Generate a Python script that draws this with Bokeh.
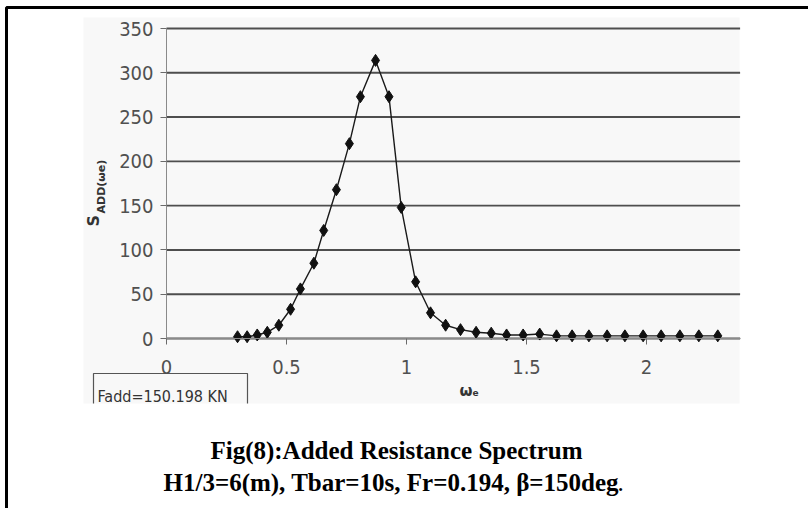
from bokeh.plotting import figure
from bokeh.models import Range1d, FixedTicker
from bokeh.core.properties import value
from bokeh.embed import file_html
from bokeh.resources import INLINE

# Encounter frequency (rad/s) and added resistance spectral density
omega_e = [0.296, 0.336, 0.378, 0.420, 0.468, 0.517, 0.558, 0.614, 0.655, 0.708,
           0.762, 0.808, 0.871, 0.927, 0.978, 1.038, 1.100, 1.163, 1.225, 1.290,
           1.353, 1.417, 1.486, 1.555, 1.625, 1.690, 1.760, 1.836, 1.910, 1.986,
           2.061, 2.139, 2.218, 2.297]
s_add = [2, 2, 4, 7, 15, 33, 56, 85, 122, 168,
         220, 273, 314, 273, 148, 64, 29, 15, 10, 7,
         6, 4, 4, 5, 3, 3, 3, 3, 3, 3,
         3, 3, 3, 3]

x_ticks = [0, 0.5, 1, 1.5, 2]
y_ticks = [0, 50, 100, 150, 200, 250, 300, 350]
x_max = 2.39
y_max = 350

total_force = "Fadd=150.198 KN"
caption_1 = "Fig(8):Added Resistance Spectrum"
caption_2 = "H1/3=6(m), Tbar=10s, Fr=0.194, \u03b2=150deg"

W, H = 808, 508
# screen layout of the data origin and scale (pixels per unit)
X0_PX, Y0_PX = 166, 338
SX, SY = 240.0, 310.0 / 350.0


def px_x(px):
    return (px - X0_PX) / SX


def px_y(py):
    return (Y0_PX - py) / SY


p = figure(width=W, height=H, output_backend="svg", toolbar_location=None,
           x_range=Range1d(px_x(0), px_x(W)), y_range=Range1d(px_y(H), px_y(0)),
           min_border=0, outline_line_color=None)
p.background_fill_color = "white"
p.border_fill_color = "white"
p.grid.visible = False

NARROW = "Liberation Sans Narrow, DejaVu Sans Condensed, sans-serif"
SERIF = "Liberation Serif, Times New Roman, serif"

# chart area panel
p.quad(left=px_x(83), right=px_x(739), top=px_y(17), bottom=px_y(403),
       fill_color="#f8f8f8", line_color=None)

# horizontal gridlines
p.segment(x0=[0] * len(y_ticks), x1=[x_max] * len(y_ticks), y0=y_ticks, y1=y_ticks,
          line_color="#4e4e4e", line_width=1.9)

# axes pinned at the data origin
for ax in (p.xaxis[0], p.yaxis[0]):
    ax.fixed_location = 0
    ax.axis_line_color = "#8a8a8a"
    ax.axis_line_width = 1
    ax.major_tick_line_color = "#6a6a6a"
    ax.major_tick_in = 0
    ax.major_tick_out = 6
    ax.minor_tick_line_color = None
    ax.major_label_text_font = NARROW
    ax.major_label_text_font_size = "20px"
    ax.major_label_text_color = "#505050"
p.xaxis.bounds = (0, x_max)
p.yaxis.bounds = (0, y_max)
p.xaxis.ticker = FixedTicker(ticks=x_ticks)
p.yaxis.ticker = FixedTicker(ticks=y_ticks)
p.xaxis.major_label_standoff = 15
p.yaxis.major_label_standoff = 7
p.xaxis.major_label_overrides = {0: "0", 0.5: "0.5", 1: "1", 1.5: "1.5", 2: "2"}

# spectrum curve
p.line(omega_e, s_add, line_color="#1a1a1a", line_width=1.4)
p.scatter(omega_e, s_add, marker="diamond", size=12,
          fill_color="#111111", line_color="#111111")

# axis titles
p.text(x=[px_x(93)], y=[px_y(226)], text=["S"], angle=1.5708,
       text_font=value("DejaVu Sans"), text_font_style="bold",
       text_font_size="16px", text_color="#333333",
       text_align="left", text_baseline="alphabetic")
p.text(x=[px_x(101)], y=[px_y(213)], text=["ADD(\u03c9e)"], angle=1.5708,
       text_font=value("DejaVu Sans"), text_font_style="bold",
       text_font_size="11px", text_color="#333333",
       text_align="left", text_baseline="middle")
p.text(x=[px_x(459)], y=[px_y(390)], text=["\u03c9"],
       text_font=value("DejaVu Sans"), text_font_style="bold",
       text_font_size="15px", text_color="#333333",
       text_align="left", text_baseline="alphabetic")
p.text(x=[px_x(472)], y=[px_y(392)], text=["e"],
       text_font=value("DejaVu Sans"), text_font_style="bold",
       text_font_size="9px", text_color="#333333",
       text_align="left", text_baseline="alphabetic")

# total added resistance box
p.multi_line(xs=[[px_x(93), px_x(93), px_x(247), px_x(247)]],
             ys=[[px_y(403), px_y(373), px_y(373), px_y(403)]],
             line_color="#555555", line_width=1.2)
p.text(x=[px_x(97)], y=[px_y(396)], text=[total_force],
       text_font=value(NARROW), text_font_size="16px", text_color="#333333",
       text_align="left", text_baseline="alphabetic")

# figure caption
p.text(x=[px_x(396)], y=[px_y(450)], text=[caption_1],
       text_font=value(SERIF), text_font_style="bold", text_font_size="25px",
       text_color="black", text_align="center", text_baseline="alphabetic")
p.text(x=[px_x(163)], y=[px_y(482)], text=[caption_2],
       text_font=value(SERIF), text_font_style="bold", text_font_size="25px",
       text_color="black", text_align="left", text_baseline="alphabetic")
p.text(x=[px_x(617)], y=[px_y(482)], text=["."],
       text_font=value(SERIF), text_font_size="25px",
       text_color="black", text_align="left", text_baseline="alphabetic")

# page frame (top and left edges)
p.multi_line(xs=[[px_x(6), px_x(6), px_x(W)]],
             ys=[[px_y(H), px_y(7), px_y(7)]],
             line_color="black", line_width=3)

open("out.html", "w").write(file_html(p, INLINE))
